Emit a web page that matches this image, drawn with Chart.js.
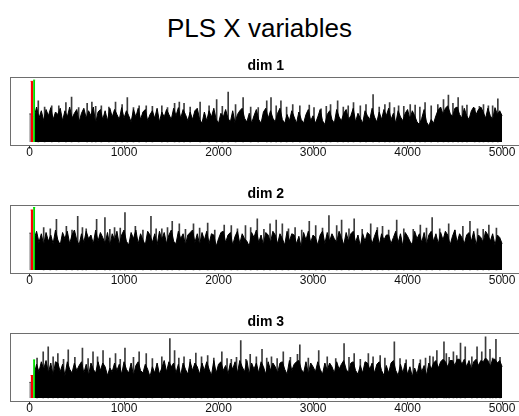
<!DOCTYPE html>
<html>
<head>
<meta charset="utf-8">
<title>PLS X variables</title>
<script src="https://cdn.jsdelivr.net/npm/chart.js@4.4.1/dist/chart.umd.min.js"></script>
<style>
  html, body { margin: 0; padding: 0; background: #fff; overflow: hidden; }
  body { width: 519px; height: 416px; position: relative; }
  #mainTitle {
    position: absolute; left: 0; top: 12px; width: 519px;
    text-align: center; color: #000;
    font: 26px "Liberation Sans", Arial, Helvetica, sans-serif; line-height: 32px;
  }
  canvas.panel { position: absolute; left: 0; }
</style>
</head>
<body>
<div id="mainTitle">PLS X variables</div>
<canvas class="panel" id="dim1" width="540" height="128" style="top:44px"></canvas>
<canvas class="panel" id="dim2" width="540" height="128" style="top:172px"></canvas>
<canvas class="panel" id="dim3" width="540" height="128" style="top:300px"></canvas>
<script>
// panel titles and x tick labels
const dimLabels = ["dim 1", "dim 2", "dim 3"];
const xTicks = [0, 1000, 2000, 3000, 4000, 5000];

// first variables: black lead block, red block, green block (variable index ranges)
const leadRange = [0, 12];
const redRange = [12, 38];
const greenRange = [38, 60];
const leadValues = [45, 59, 25];
const redValues = [97, 96, 36];
const greenValues = [99, 100, 61];

// bulk of the other variables, read every ~25 variables (relative height)
const massFirstVar = 50;
const massLastVar = 5000;

const dim1Mass = [
  40, 56, 38, 50, 34, 52, 42, 55, 36, 48,
  44, 54, 34, 50, 40, 56, 38, 46, 52, 32,
  46, 54, 38, 50, 42, 56, 30, 48, 52, 36,
  50, 34, 54, 40, 52, 44, 36, 55, 38, 50,
  42, 32, 52, 40, 54, 36, 48, 52, 34, 44,
  50, 38, 54, 32, 48, 40, 52, 44, 36, 54,
  42, 55, 38, 52, 44, 34, 48, 36, 50, 54,
  36, 30, 48, 34, 50, 40, 54, 36, 30, 46,
  40, 52, 38, 32, 50, 30, 44, 50, 54, 38,
  32, 46, 30, 42, 52, 36, 30, 48, 54, 38,
  50, 38, 32, 46, 54, 36, 30, 44, 34, 50,
  40, 30, 48, 36, 30, 44, 52, 34, 42, 30,
  40, 52, 34, 28, 44, 50, 36, 30, 52, 40,
  34, 46, 52, 36, 42, 54, 32, 46, 38, 30,
  50, 42, 36, 54, 40, 32, 48, 36, 52, 42,
  54, 36, 46, 30, 50, 40, 34, 46, 52, 36,
  50, 42, 32, 28, 38, 52, 32, 26, 36, 30,
  42, 52, 56, 44, 54, 58, 46, 40, 54, 56,
  44, 38, 54, 42, 36, 50, 56, 44, 52, 56,
  48, 38, 54, 42, 36, 55, 44, 50, 42
];

const dim2Mass = [
  50, 62, 44, 58, 40, 60, 46, 56, 42, 64,
  48, 40, 60, 50, 62, 42, 56, 64, 48, 40,
  58, 44, 62, 50, 56, 42, 64, 46, 60, 52,
  42, 60, 38, 58, 48, 62, 40, 56, 64, 46,
  40, 60, 50, 64, 42, 58, 48, 40, 62, 56,
  44, 58, 40, 62, 48, 60, 42, 56, 64, 46,
  42, 62, 50, 58, 40, 56, 60, 64, 44, 58,
  40, 60, 48, 62, 42, 58, 56, 38, 50, 60,
  62, 44, 56, 60, 40, 54, 62, 42, 58, 50,
  46, 38, 60, 52, 64, 44, 56, 40, 60, 56,
  44, 62, 56, 42, 58, 50, 40, 62, 46, 58,
  56, 42, 54, 36, 60, 48, 62, 44, 56, 52,
  40, 56, 62, 42, 60, 46, 58, 50, 44, 62,
  52, 40, 60, 46, 58, 62, 44, 56, 38, 58,
  46, 60, 56, 42, 54, 64, 40, 58, 48, 56,
  56, 42, 52, 62, 44, 58, 38, 60, 54, 46,
  40, 62, 50, 58, 44, 60, 40, 56, 62, 46,
  58, 42, 60, 48, 62, 56, 40, 54, 64, 44,
  58, 52, 42, 56, 60, 46, 62, 40, 56, 52,
  44, 62, 56, 46, 58, 40, 56, 52, 42
];

const dim3Mass = [
  38, 54, 42, 58, 46, 60, 40, 56, 36, 58,
  56, 42, 54, 36, 58, 46, 40, 56, 44, 52,
  58, 40, 54, 36, 56, 46, 40, 58, 44, 56,
  50, 36, 48, 42, 56, 44, 54, 38, 58, 46,
  40, 56, 36, 52, 58, 44, 40, 54, 46, 34,
  50, 40, 56, 38, 48, 60, 42, 58, 50, 56,
  40, 54, 36, 56, 46, 38, 58, 44, 56, 50,
  38, 56, 44, 58, 46, 36, 60, 40, 54, 58,
  44, 52, 38, 56, 46, 58, 40, 60, 50, 42,
  60, 38, 56, 46, 56, 40, 58, 50, 38, 58,
  44, 56, 50, 40, 56, 58, 46, 38, 60, 44,
  54, 58, 60, 46, 40, 58, 38, 56, 50, 42,
  58, 46, 38, 56, 44, 56, 50, 40, 58, 46,
  54, 60, 46, 40, 56, 58, 44, 38, 52, 40,
  58, 56, 46, 56, 40, 54, 58, 44, 36, 52,
  40, 56, 60, 44, 36, 54, 40, 56, 38, 50,
  34, 48, 38, 56, 42, 52, 36, 56, 46, 56,
  60, 48, 58, 62, 58, 50, 60, 60, 52, 62,
  62, 54, 62, 50, 60, 46, 58, 62, 52, 60,
  58, 64, 60, 50, 62, 62, 56, 60, 50
];

// tallest single variables (needles): variable index and relative height
const dim1SpikeVars = [93, 235, 385, 445, 610, 660, 760, 910, 1035, 1160, 1235, 1535, 1585, 1635,
  1805, 1980, 2102, 2260, 2510, 2555, 2660, 2785, 2860, 2960, 3085, 3185, 3260, 3372,
  3428, 3560, 3635, 3760, 3810, 3905, 4028, 4080, 4185, 4380, 4432, 4535, 4628, 4710, 4803, 4855, 4955];
const dim1SpikeHeights = [66, 58, 63, 72, 62, 64, 58, 64, 71, 58, 58, 62, 64, 62,
  64, 68, 80, 71, 66, 71, 66, 60, 58, 59, 53, 60, 66, 58,
  63, 60, 76, 60, 63, 58, 60, 59, 63, 68, 75, 71, 59, 54, 60, 58, 69];
const dim1ShortVars = [160, 310, 520, 700, 840, 980, 1100, 1300, 1400, 1460,
  1700, 1900, 2040, 2180, 2340, 2420, 2610, 2720, 3010, 3140,
  3320, 3500, 3700, 3860, 3960, 4130, 4250, 4320, 4480, 4580, 4760, 4900];
const dim1ShortHeights = [56, 58, 55, 57, 56, 60, 55, 57, 58, 55,
  56, 58, 57, 60, 56, 55, 58, 56, 55, 57,
  56, 58, 56, 55, 57, 56, 58, 60, 62, 58, 57, 58];

const dim2SpikeVars = [150, 285, 390, 510, 600, 710, 798, 900, 1010, 1120, 1285, 1400, 1510, 1585,
  1735, 1885, 2060, 2135, 2285, 2410, 2545, 2610, 2675, 2810, 2960, 3028, 3168, 3250, 3302,
  3435, 3610, 3735, 3885, 4135, 4260, 4435, 4585, 4660, 4860];
const dim2SpikeHeights = [68, 81, 70, 86, 66, 81, 84, 68, 92, 70, 86, 66, 78, 74,
  74, 75, 72, 71, 71, 82, 74, 80, 74, 68, 78, 71, 87, 71, 80,
  82, 74, 70, 80, 72, 84, 74, 70, 78, 72];
const dim2ShortVars = [220, 450, 560, 850, 960, 1200, 1340, 1460, 1650, 1800,
  1960, 2200, 2340, 2480, 2740, 2880, 3100, 3380, 3520, 3680,
  3800, 3960, 4060, 4200, 4340, 4500, 4740, 4800, 4940];
const dim2ShortHeights = [66, 64, 68, 65, 67, 64, 66, 68, 65, 67,
  64, 66, 68, 65, 66, 64, 67, 66, 65, 68,
  64, 66, 65, 67, 66, 64, 66, 65, 67];

const dim3SpikeVars = [145, 198, 300, 410, 560, 672, 778, 910, 1010, 1160, 1235, 1485, 1535,
  1635, 1760, 1885, 2035, 2135, 2235, 2335, 2460, 2560, 2685, 2835, 2860, 3060,
  3328, 3435, 3585, 3635, 3710, 3860, 3985, 4135, 4235, 4310, 4385, 4410, 4485, 4560, 4610,
  4735, 4785, 4825, 4872, 4935, 4978];
const dim3SpikeHeights = [74, 82, 71, 77, 80, 74, 76, 71, 80, 74, 71, 95, 76,
  66, 72, 68, 74, 62, 92, 70, 78, 66, 74, 70, 85, 76,
  87, 71, 71, 66, 68, 90, 61, 61, 67, 76, 90, 71, 74, 88, 82,
  82, 74, 98, 78, 94, 65];
const dim3ShortVars = [80, 250, 360, 480, 620, 720, 850, 960, 1100, 1300,
  1400, 1580, 1700, 1820, 1950, 2090, 2190, 2290, 2400, 2510,
  2620, 2760, 2950, 3150, 3240, 3380, 3500, 3760, 3920, 4060,
  4190, 4270, 4440, 4520, 4680, 4900];
const dim3ShortHeights = [64, 66, 62, 65, 63, 66, 64, 62, 65, 63,
  66, 64, 62, 66, 64, 63, 65, 62, 66, 64,
  63, 65, 64, 66, 63, 65, 62, 64, 63, 62,
  64, 66, 65, 68, 66, 64];

const massByDim = [dim1Mass, dim2Mass, dim3Mass];
const needleVarsByDim = [
  dim1SpikeVars.concat(dim1ShortVars),
  dim2SpikeVars.concat(dim2ShortVars),
  dim3SpikeVars.concat(dim3ShortVars),
];
const needleHeightsByDim = [
  dim1SpikeHeights.concat(dim1ShortHeights),
  dim2SpikeHeights.concat(dim2ShortHeights),
  dim3SpikeHeights.concat(dim3ShortHeights),
];

Chart.defaults.font.family = "'Liberation Sans', Arial, Helvetica, sans-serif";
Chart.defaults.color = "#000";

// draws the R style box around the plot region
const boxPlugin = {
  id: "box",
  afterDraw(chart) {
    const a = chart.chartArea;
    const ctx = chart.ctx;
    ctx.save();
    ctx.strokeStyle = "#6e6e6e";
    ctx.lineWidth = 1;
    const l = Math.round(a.left) - 0.5;
    const t = Math.round(a.top) + 0.5;
    const b = Math.round(a.bottom) + 0.5;
    const r = Math.round(a.right) + 0.5;
    ctx.strokeRect(l, t, r - l, b - t);
    ctx.restore();
  },
};

function block(range, value) {
  return [
    { x: range[0], y: value },
    { x: range[1], y: value },
  ];
}

function filledSet(data, color) {
  return {
    data: data,
    borderColor: color,
    backgroundColor: color,
    borderWidth: 1,
    fill: "origin",
    pointRadius: 0,
    tension: 0,
  };
}

function renderPanel(canvas, k) {
  const mass = massByDim[k];
  const step = (massLastVar - massFirstVar) / (mass.length - 1);
  const massPts = mass.map((v, i) => ({ x: massFirstVar + i * step, y: v }));
  const needlePts = needleVarsByDim[k].map((v, i) => ({ x: v, y: needleHeightsByDim[k][i] }));

  new Chart(canvas.getContext("2d"), {
    type: "line",
    data: {
      datasets: [
        filledSet(block(leadRange, leadValues[k]), "#000000"),
        filledSet(block(redRange, redValues[k]), "#ff0000"),
        filledSet(block(greenRange, greenValues[k]), "#00dd00"),
        filledSet(massPts, "#000000"),
        {
          type: "bar",
          data: needlePts,
          backgroundColor: "#3c3c3c",
          barThickness: 1,
          grouped: false,
        },
      ],
    },
    options: {
      responsive: false,
      animation: false,
      events: [],
      layout: { padding: { left: 10.6, right: 19, top: 0, bottom: 7.5 } },
      plugins: {
        legend: { display: false },
        tooltip: { enabled: false },
        title: {
          display: true,
          text: dimLabels[k],
          color: "#000",
          font: { size: 14, weight: "bold" },
          padding: { top: 13.6, bottom: 2.6 },
        },
      },
      scales: {
        x: {
          type: "linear",
          min: -200,
          max: 5200,
          offset: false,
          afterFit: (scale) => {
            scale.height = 20;
          },
          afterBuildTicks: (scale) => {
            scale.ticks = xTicks.map((v) => ({ value: v }));
          },
          grid: {
            display: true,
            offset: false,
            drawOnChartArea: false,
            drawTicks: true,
            tickLength: 4,
            color: "#333",
          },
          border: { display: false },
          ticks: {
            color: "#111",
            font: { size: 12 },
            padding: -3,
            maxRotation: 0,
            autoSkip: false,
            callback: (value) => String(value),
          },
        },
        y: { display: false, min: -4, max: 104 },
      },
    },
    plugins: [boxPlugin],
  });
}

document.addEventListener("DOMContentLoaded", () => {
  ["dim1", "dim2", "dim3"].forEach((id, k) => {
    renderPanel(document.getElementById(id), k);
  });
});
</script>
</body>
</html>
